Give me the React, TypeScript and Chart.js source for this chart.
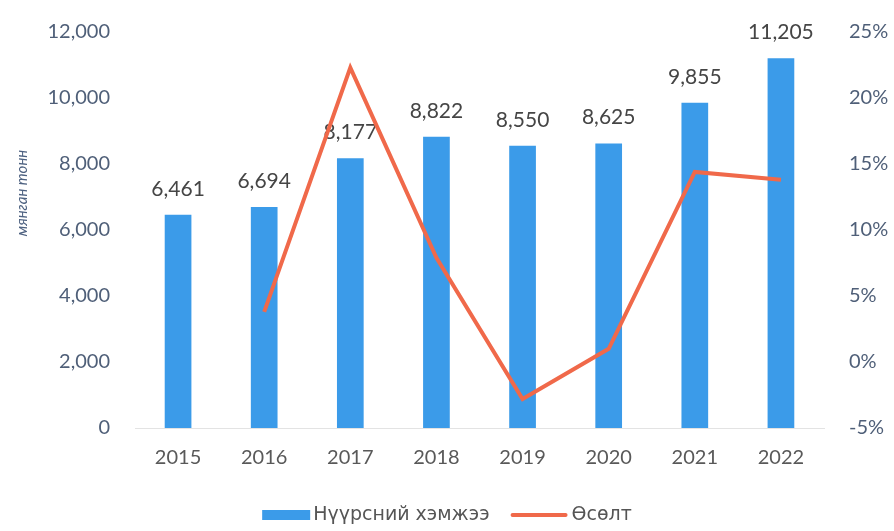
import React, { useEffect, useRef } from "react";
import { Chart, registerables } from "chart.js";

Chart.register(...registerables);

const categories = ["2015", "2016", "2017", "2018", "2019", "2020", "2021", "2022"];
const coalVolume = [6461, 6694, 8177, 8822, 8550, 8625, 9855, 11205];
const growthPct = [null, 3.8, 22.3, 7.9, -2.8, 1.0, 14.4, 13.8];
const leftTicks = [0, 2000, 4000, 6000, 8000, 10000, 12000];
const rightTicks = [-5, 0, 5, 10, 15, 20, 25];
const seriesNames = ["Нүүрсний хэмжээ", "Өсөлт"];
const axisTitle = "мянган тонн";

const FONT = "Lato, 'Open Sans', sans-serif";
const LEGEND_FONT = "'DejaVu Sans', Verdana, sans-serif";
const BAR_COLOR = "#3b9be9";
const LINE_COLOR = "#f0694a";
const TICK_COLOR = "#4f5f78";

const fmt = (v: number) => v.toLocaleString("en-US");

const barLabelPlugin = {
  id: "barLabels",
  afterDatasetDraw(chart: any, args: any) {
    if (args.index !== 0) return;
    const ctx = chart.ctx;
    const meta = chart.getDatasetMeta(0);
    ctx.save();
    ctx.font = `21px ${FONT}`;
    ctx.fillStyle = "#454545";
    ctx.textAlign = "center";
    ctx.textBaseline = "middle";
    meta.data.forEach((el: any, i: number) => {
      ctx.fillText(fmt(coalVolume[i]), el.x, el.y - 26);
    });
    ctx.restore();
  },
};

const decorPlugin = {
  id: "decor",
  afterDraw(chart: any) {
    const ctx = chart.ctx;
    ctx.save();
    // axis title
    ctx.font = `italic 15px ${FONT}`;
    ctx.fillStyle = "#4d6180";
    ctx.textAlign = "center";
    ctx.textBaseline = "middle";
    ctx.translate(22, 193);
    ctx.rotate(-Math.PI / 2);
    ctx.fillText(axisTitle, 0, 0);
    ctx.restore();

    // legend
    ctx.save();
    ctx.font = `19px ${LEGEND_FONT}`;
    ctx.textBaseline = "middle";
    ctx.textAlign = "left";
    const w0 = ctx.measureText(seriesNames[0]).width;
    const w1 = ctx.measureText(seriesNames[1]).width;
    const total = 48 + 3 + w0 + 23 + 53 + 6 + w1;
    const cy = 515;
    let x = chart.width / 2 - total / 2;
    ctx.fillStyle = BAR_COLOR;
    ctx.fillRect(x, cy - 5, 48, 10);
    x += 51;
    ctx.fillStyle = "#555555";
    ctx.fillText(seriesNames[0], x, cy);
    x += w0 + 23;
    ctx.strokeStyle = LINE_COLOR;
    ctx.lineWidth = 4;
    ctx.lineCap = "round";
    ctx.beginPath();
    ctx.moveTo(x, cy);
    ctx.lineTo(x + 53, cy);
    ctx.stroke();
    x += 59;
    ctx.fillText(seriesNames[1], x, cy);
    ctx.restore();
  },
};

const fixV = (w: number) => (s: any) => {
  s.width = w;
  s.paddingTop = 0;
  s.paddingBottom = 0;
};

export default function App() {
  const ref = useRef<HTMLCanvasElement>(null);
  useEffect(() => {
    document.body.style.margin = "0";
    const chart = new Chart(ref.current!, {
      type: "bar",
      data: {
        labels: categories,
        datasets: [
          {
            type: "bar",
            label: seriesNames[0],
            data: coalVolume,
            backgroundColor: BAR_COLOR,
            yAxisID: "y",
            barPercentage: 0.62,
            categoryPercentage: 0.5,
            order: 1,
          },
          {
            type: "line",
            label: seriesNames[1],
            data: growthPct as any,
            borderColor: LINE_COLOR,
            backgroundColor: LINE_COLOR,
            borderWidth: 4,
            pointRadius: 0,
            tension: 0,
            yAxisID: "y1",
            order: 0,
          },
        ],
      },
      options: {
        animation: false,
        responsive: false,
        layout: { padding: { top: 32, bottom: 32, left: 0, right: 0 } },
        plugins: {
          tooltip: { enabled: false },
          legend: { display: false },
        },
        scales: {
          x: {
            afterFit: (s: any) => {
              s.height = 71;
            },
            grid: { display: false, drawTicks: false },
            border: { display: true, color: "#e3e3e3", width: 1 },
            ticks: { color: "#595959", font: { family: FONT, size: 20 }, padding: 18 },
          },
          y: {
            position: "left",
            min: 0,
            max: 12000,
            afterBuildTicks: (s: any) => {
              s.ticks = leftTicks.map((v) => ({ value: v }));
            },
            afterFit: fixV(135),
            grid: { display: false, drawTicks: false },
            border: { display: false },
            ticks: {
              color: TICK_COLOR,
              font: { family: FONT, size: 20 },
              padding: 25,
              callback: (v: any) => fmt(Number(v)),
            },
          },
          y1: {
            position: "right",
            min: -5,
            max: 25,
            afterBuildTicks: (s: any) => {
              s.ticks = rightTicks.map((v) => ({ value: v }));
            },
            afterFit: fixV(70),
            grid: { display: false, drawTicks: false },
            border: { display: false },
            ticks: {
              color: TICK_COLOR,
              font: { family: FONT, size: 20 },
              padding: 25,
              callback: (v: any) => `${v}%`,
            },
          },
        },
      },
      plugins: [barLabelPlugin, decorPlugin],
    });
    return () => chart.destroy();
  }, []);
  return (
    <div style={{ width: 894, height: 531, background: "#ffffff" }}>
      <canvas ref={ref} width={894} height={531} style={{ display: "block" }} />
    </div>
  );
}
